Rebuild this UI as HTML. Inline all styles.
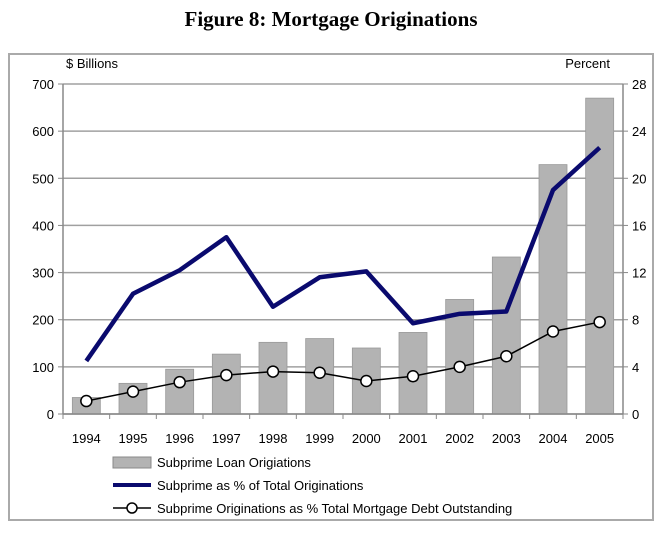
<!DOCTYPE html>
<html><head><meta charset="utf-8"><style>
body{margin:0;background:#fff;width:662px;height:529px;overflow:hidden}
svg text{font-family:"Liberation Sans",sans-serif;font-size:13px;fill:#000}
</style></head><body>
<svg width="662" height="529">
<text x="331" y="26" text-anchor="middle" style="font-family:'Liberation Serif',serif;font-size:21px;font-weight:bold">Figure 8: Mortgage Originations</text>
<rect x="9" y="54" width="644" height="466" fill="none" stroke="#aaa" stroke-width="2"/>
<text x="66" y="68">$ Billions</text>
<text x="610" y="68" text-anchor="end">Percent</text>
<g id="grid"></g><g id="bars"></g><g id="lines"></g><g id="axes"></g>
<g>
<rect x="113" y="457" width="38" height="11" fill="#b3b3b3" stroke="#888"/>
<text x="157" y="467">Subprime Loan Origiations</text>
<line x1="113" y1="485" x2="151" y2="485" stroke="#0a0a6e" stroke-width="4"/>
<text x="157" y="490">Subprime as % of Total Originations</text>
<line x1="113" y1="508" x2="151" y2="508" stroke="#000" stroke-width="1.5"/>
<circle cx="132" cy="508" r="5" fill="#fff" stroke="#000" stroke-width="1.5"/>
<text x="157" y="513">Subprime Originations as % Total Mortgage Debt Outstanding</text>
</g>
</svg>
<script>
const years=["1994","1995","1996","1997","1998","1999","2000","2001","2002","2003","2004","2005"];
const loans=[35,65,95,127,152,160,140,173,243,333,529,670];
const sharePct=[4.5,10.2,12.2,15,9.1,11.6,12.1,7.7,8.5,8.7,19,22.6];
const debtPct=[1.1,1.9,2.7,3.3,3.6,3.5,2.8,3.2,4.0,4.9,7.0,7.8];
const leftTicks=[0,100,200,300,400,500,600,700];
const rightTicks=[0,4,8,12,16,20,24,28];
const NS="http://www.w3.org/2000/svg";
const L=63,R=623,T=84,B=414;
const band=(R-L)/years.length;
const xc=i=>L+band*(i+0.5);
const yL=v=>B-(v/700)*(B-T);
const yR=v=>B-(v/28)*(B-T);
function mk(tag,attrs,parent){const e=document.createElementNS(NS,tag);for(const k in attrs)e.setAttribute(k,attrs[k]);document.getElementById(parent).appendChild(e);return e;}
leftTicks.forEach((t,i)=>{
 const g=mk('line',{x1:L,x2:R,y1:yL(t),y2:yL(t),stroke:'#a0a0a0','stroke-width':1.5},'grid');
 
 
 const tx=mk('text',{x:L-9,y:yL(t)+5,'text-anchor':'end'},'axes');tx.textContent=t;
 
 
 mk('line',{x1:L-5,x2:L,y1:yL(t),y2:yL(t),stroke:'#888'},'axes');
});
rightTicks.forEach(t=>{
 const tx=mk('text',{x:R+9,y:yR(t)+5},'axes');tx.textContent=t;
 
 
 mk('line',{x1:R,x2:R+5,y1:yR(t),y2:yR(t),stroke:'#888'},'axes');
});
mk('line',{x1:L,x2:L,y1:T,y2:B,stroke:'#888','stroke-width':1.5},'axes');
mk('line',{x1:R,x2:R,y1:T,y2:B,stroke:'#888','stroke-width':1.5},'axes');
mk('line',{x1:L,x2:R,y1:B,y2:B,stroke:'#888','stroke-width':1.5},'axes');
years.forEach((y,i)=>{
 mk('line',{x1:L+band*i,x2:L+band*i,y1:B,y2:B+5,stroke:'#888'},'axes');
 const tx=mk('text',{x:xc(i),y:B+29,'text-anchor':'middle'},'axes');tx.textContent=y;
 
 
 const b=mk('rect',{x:xc(i)-14,y:yL(loans[i]),width:28,height:B-yL(loans[i]),fill:'#b3b3b3',stroke:'#999','stroke-width':0.8},'bars');
 
 
});
mk('line',{x1:R,x2:R,y1:B,y2:B+5,stroke:'#888'},'axes');
const p1=mk('polyline',{points:sharePct.map((v,i)=>xc(i)+','+yR(v)).join(' '),fill:'none',stroke:'#0a0a6e','stroke-width':4.5,'stroke-linejoin':'round'},'lines');


const p2=mk('polyline',{points:debtPct.map((v,i)=>xc(i)+','+yR(v)).join(' '),fill:'none',stroke:'#000','stroke-width':1.5},'lines');


debtPct.forEach((v,i)=>{
 const c=mk('circle',{cx:xc(i),cy:yR(v),r:5.5,fill:'#fff',stroke:'#000','stroke-width':1.5},'lines');
 
 
});
</script>
</body></html>
